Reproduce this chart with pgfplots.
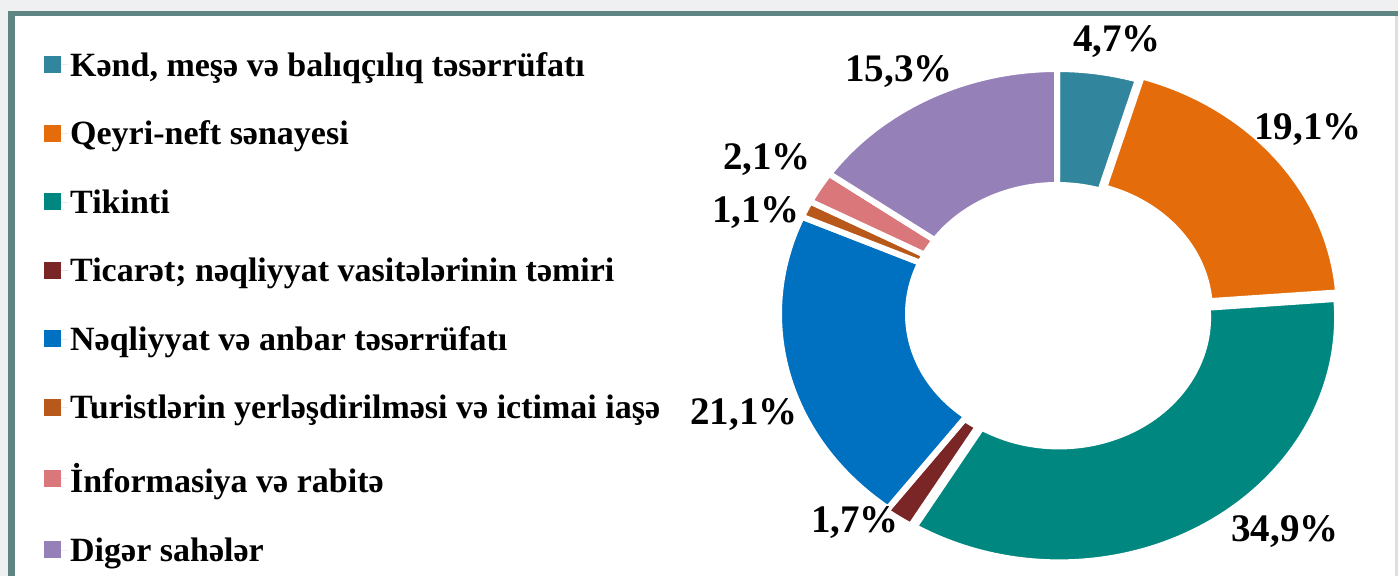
\documentclass[border=0pt]{standalone}
\usepackage{fontspec}
\setmainfont{Liberation Serif}
\usepackage{pgfplots}
\pgfplotsset{compat=1.18}
\usepackage{pgfplotstable}

\definecolor{c0}{HTML}{31859C}
\definecolor{c1}{HTML}{E46C0A}
\definecolor{c2}{HTML}{00877F}
\definecolor{c3}{HTML}{7B2626}
\definecolor{c4}{HTML}{0070C0}
\definecolor{c5}{HTML}{B8581A}
\definecolor{c6}{HTML}{D9777A}
\definecolor{c7}{HTML}{9581B8}
\definecolor{framebg}{HTML}{EEF0F1}
\definecolor{frameline}{HTML}{5F8582}

% shares in %, explode offset (pt), and where each label sits (px from bottom left)
\pgfplotstableread{
val ex lx ly
4.7 0 1117 534
19.1 5 1308 446
34.9 4 1285 44
1.7 3 855 53
21.1 0 744 161
1.1 0 756 363
2.1 0 767 416
15.3 0 899 504
}\donut

\begin{document}
\begin{tikzpicture}
% start/end/mid angle of every slice, clockwise from 12 o'clock
\def\acc{90}
\foreach \i in {0,...,7}{%
  \pgfplotstablegetelem{\i}{val}\of\donut
  \pgfmathsetmacro\nxt{\acc-3.6*\pgfplotsretval}%
  \pgfmathsetmacro\mid{(\acc+\nxt)/2}%
  \expandafter\xdef\csname s\i\endcsname{\acc}%
  \expandafter\xdef\csname e\i\endcsname{\nxt}%
  \expandafter\xdef\csname m\i\endcsname{\mid}%
  \pgfplotstablegetelem{\i}{ex}\of\donut
  \expandafter\xdef\csname x\i\endcsname{\pgfplotsretval}%
  \xdef\acc{\nxt}%
}
\begin{axis}[
    scale only axis, width=1398pt, height=576pt,
    xmin=0, xmax=1398, ymin=0, ymax=576,
    hide axis, clip=false,
    legend style={at={(axis cs:44,526)}, anchor=north west, draw=none, fill=none,
        font=\fontsize{34}{38}\selectfont\bfseries, inner sep=0pt,
        row sep=39.3pt},
    legend cell align=left,
    legend image code/.code={
        \path[draw=none] (0pt,0pt) -- (24pt,0pt);
        \fill[#1, draw=none] (0pt,-8pt) rectangle (17pt,9pt);},
    /pgf/number format/assume math mode=true,
    ]
    % frame
    \fill[framebg] (axis cs:0,0) rectangle (axis cs:1398,576);
    \fill[white] (axis cs:15,0) rectangle (axis cs:1398,560);
    \fill[frameline] (axis cs:8,0) rectangle (axis cs:15,565);
    \fill[frameline] (axis cs:8,560) rectangle (axis cs:1398,565);
    \fill[gray!25] (axis cs:1395,0) rectangle (axis cs:1398,560);

    % donut slices
    \pgfplotsinvokeforeach{0,...,7}{
        \filldraw[fill=c#1, draw=white, line width=6pt, line join=miter]
            (axis cs:1057,262) ++(\csname m#1\endcsname:\csname x#1\endcsname pt)
            ++(\csname s#1\endcsname:278pt and 245pt)
            arc[start angle=\csname s#1\endcsname, end angle=\csname e#1\endcsname,
                x radius=278pt, y radius=245pt]
            -- ++(\csname e#1\endcsname+180:129pt and 116pt)
            arc[start angle=\csname e#1\endcsname, end angle=\csname s#1\endcsname,
                x radius=149pt, y radius=129pt]
            -- cycle;
    }

    % percentage labels
    \addplot[draw=none, mark=none, forget plot, nodes near coords,
        point meta=\thisrow{val},
        nodes near coords={\pgfmathprintnumber[fixed, precision=1, fixed zerofill, use comma]{\pgfplotspointmeta}\%},
        every node near coord/.append style={anchor=center, font=\fontsize{39}{40}\selectfont\bfseries, text=black, inner sep=0pt}]
        table[x=lx, y=ly] {\donut};

    \addlegendimage{fill=c0}
    \addlegendentry{Kənd, meşə və balıqçılıq təsərrüfatı}
    \addlegendimage{fill=c1}
    \addlegendentry{Qeyri-neft sənayesi}
    \addlegendimage{fill=c2}
    \addlegendentry{Tikinti}
    \addlegendimage{fill=c3}
    \addlegendentry{Ticarət; nəqliyyat vasitələrinin təmiri}
    \addlegendimage{fill=c4}
    \addlegendentry{Nəqliyyat və anbar təsərrüfatı}
    \addlegendimage{fill=c5}
    \addlegendentry{Turistlərin yerləşdirilməsi və ictimai iaşə}
    \addlegendimage{fill=c6}
    \addlegendentry{İnformasiya və rabitə}
    \addlegendimage{fill=c7}
    \addlegendentry{Digər sahələr}
\end{axis}
\end{tikzpicture}
\end{document}
